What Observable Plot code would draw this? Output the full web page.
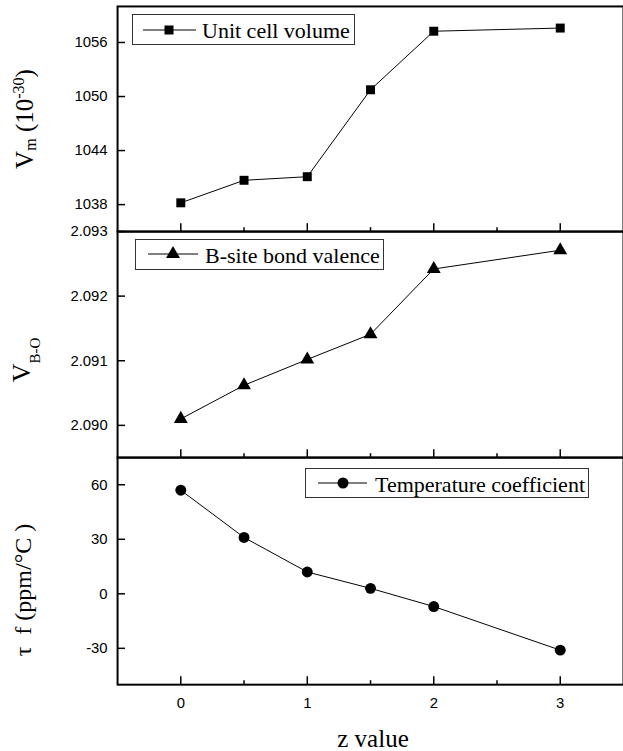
<!DOCTYPE html>
<html>
<head>
<meta charset="utf-8">
<script src="https://cdn.jsdelivr.net/npm/d3@7"></script>
<script src="https://cdn.jsdelivr.net/npm/@observablehq/plot@0.6"></script>
<style>
  html, body { margin: 0; padding: 0; background: #fff; overflow: hidden; }
  #chart { position: relative; width: 623px; height: 751px; overflow: hidden; }
  #chart svg.plot { display: block; }
  #overlay { position: absolute; left: 0; top: 0; pointer-events: none; }
  #overlay text { font-family: "Liberation Serif", "Times New Roman", Times, serif; }
</style>
</head>
<body>
<div id="chart"></div>
<script>
// ---- data ----
const zValues = [0, 0.5, 1, 1.5, 2, 3];
const unitCellVolume = [1038.2, 1040.7, 1041.1, 1050.75, 1057.25, 1057.6];
const bondValence = [2.0901, 2.09062, 2.09102, 2.09141, 2.09242, 2.09271];
const tempCoefficient = [57, 31, 12, 3, -7, -31];

const xMajorTicks = [0, 1, 2, 3];
const xMinorTicks = [0.5, 1.5, 2.5];
const volumeTicks = [1038, 1044, 1050, 1056];
const valenceTicks = [2.090, 2.091, 2.092, 2.093];
const tempTicks = [-30, 0, 30, 60];

const legendLabels = ["Unit cell volume", "B-site bond valence", "Temperature coefficient"];
const axisTitles = {x: "z value"};

const chart = document.getElementById("chart");
const tickFont = "'Liberation Sans', Arial, sans-serif";

function panel({values, yDomain, yTicks, yFormat, symbol, r, height, marginTop, marginBottom, showX}) {
  const data = zValues.map((x, i) => ({x, y: values[i]}));
  const svg = Plot.plot({
    width: 628, height, marginLeft: 118, marginRight: 0, marginTop, marginBottom,
    style: {background: "transparent", fontFamily: tickFont, fontSize: "15px", color: "#000", overflow: "visible"},
    x: {domain: [-0.5, 3.5]},
    y: {domain: yDomain},
    marks: [
      Plot.line(data, {x: "x", y: "y", stroke: "#000", strokeWidth: 1}),
      Plot.dot(data, {x: "x", y: "y", symbol, r, fill: "#000", stroke: "none"}),
      Plot.axisY({ticks: yTicks, tickSize: -8, tickPadding: 18, tickFormat: yFormat, label: null, strokeWidth: 1.5, fill: "#000", fontSize: 15, fontFamily: tickFont}),
      Plot.axisX({ticks: xMajorTicks, tickSize: -8, tickPadding: 21, tickFormat: showX ? (d => String(d)) : (() => ""), label: null, strokeWidth: 1.5, fill: "#000", fontSize: 15, fontFamily: tickFont}),
      Plot.axisX({ticks: xMinorTicks, tickSize: -4, tickFormat: () => "", label: null, strokeWidth: 1.5}),
      Plot.frame({stroke: "#000", strokeWidth: 2})
    ]
  });
  svg.classList.add("plot");
  return svg;
}

chart.appendChild(panel({values: unitCellVolume, yDomain: [1035, 1060], yTicks: volumeTicks, yFormat: d => String(d), symbol: "square", r: 5.1, height: 233, marginTop: 6, marginBottom: 0, showX: false}));
chart.appendChild(panel({values: bondValence, yDomain: [2.0895, 2.093], yTicks: valenceTicks, yFormat: d3.format(".3f"), symbol: "triangle", r: 5.2, height: 228, marginTop: 0, marginBottom: 0, showX: false}));
chart.appendChild(panel({values: tempCoefficient, yDomain: [-50, 75], yTicks: tempTicks, yFormat: d => String(d), symbol: "circle", r: 5.5, height: 290, marginTop: 0, marginBottom: 61, showX: true}));

// ---- overlay: axis titles and legends ----
const serif = "'Liberation Serif', 'Times New Roman', Times, serif";
const ov = d3.select(chart).append("svg").attr("id", "overlay").attr("width", 623).attr("height", 751)
  .attr("font-family", serif).attr("fill", "#000");

// top title
const t1 = ov.append("text").attr("font-family", serif).attr("transform", "translate(33,119) rotate(-90)").attr("text-anchor", "middle").attr("font-size", 25);
t1.append("tspan").text("V");
t1.append("tspan").attr("dy", 3).attr("font-size", 16).text("m");
t1.append("tspan").attr("dy", -3).text("\u00a0(10");
t1.append("tspan").attr("dy", -9).attr("font-size", 16).text("-30");
t1.append("tspan").attr("dy", 9).text(")");

// middle title
const t2 = ov.append("text").attr("font-family", serif).attr("transform", "translate(30,360) rotate(-90)").attr("text-anchor", "middle").attr("font-size", 26);
t2.append("tspan").text("V");
t2.append("tspan").attr("dy", 10).attr("font-size", 15).text("B-O");

// bottom title
ov.append("text").attr("font-family", serif).attr("transform", "translate(31,590) rotate(-90)").attr("text-anchor", "middle").attr("font-size", 24)
  .text("\u03c4\u00a0\u00a0f (ppm/\u00b0C\u00a0)");

// x title
ov.append("text").attr("font-family", serif).attr("x", 373).attr("y", 747).attr("text-anchor", "middle").attr("font-size", 25).text(axisTitles.x);

// legends
const legends = [
  {box: [132, 14, 222, 30], line: [143, 196], cy: 30, mx: 169, sym: d3.symbolSquare, size: 81, tx: 202, ty: 38, label: legendLabels[0]},
  {box: [135, 239, 248, 30], line: [148, 198], cy: 254, mx: 173, sym: d3.symbolTriangle, size: 85, tx: 205, ty: 263, label: legendLabels[1]},
  {box: [305, 468, 283, 29], line: [318, 367], cy: 483, mx: 343, sym: d3.symbolCircle, size: 95, tx: 375, ty: 492, label: legendLabels[2]}
];
for (const L of legends) {
  const g = ov.append("g");
  g.append("rect").attr("x", L.box[0] + 0.5).attr("y", L.box[1] + 0.5).attr("width", L.box[2]).attr("height", L.box[3])
    .attr("fill", "#fff").attr("stroke", "#333").attr("stroke-width", 1);
  g.append("line").attr("x1", L.line[0]).attr("x2", L.line[1]).attr("y1", L.cy).attr("y2", L.cy).attr("stroke", "#000").attr("stroke-width", 1);
  g.append("path").attr("d", d3.symbol().type(L.sym).size(L.size)()).attr("transform", `translate(${L.mx},${L.cy})`).attr("fill", "#000");
  g.append("text").attr("font-family", serif).attr("x", L.tx).attr("y", L.ty).attr("font-size", 22).text(L.label);
}
</script>
</body>
</html>
